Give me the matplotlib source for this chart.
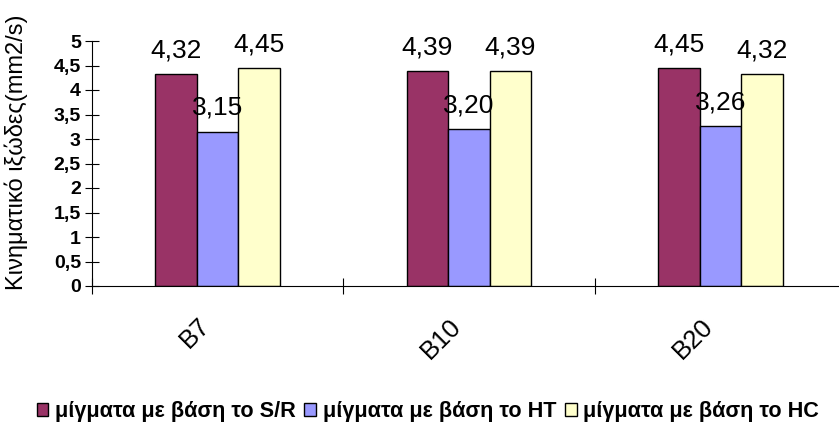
import numpy as np
import matplotlib.pyplot as plt
from matplotlib.transforms import ScaledTranslation

plt.rcParams['font.family'] = ['Liberation Sans', 'DejaVu Sans']

samples = ['B7', 'B10', 'B20']
series_names = ['μίγματα με βάση το S/R', 'μίγματα με βάση το HT', 'μίγματα με βάση το HC']
sr_vals = [4.32, 4.39, 4.45]
ht_vals = [3.15, 3.20, 3.26]
hc_vals = [4.45, 4.39, 4.32]
colors = ['#993366', '#9999FF', '#FFFFCC']
yticks = [0, 0.5, 1, 1.5, 2, 2.5, 3, 3.5, 4, 4.5, 5]

fig = plt.figure(figsize=(8.39, 4.25), dpi=100)
ax = fig.add_axes([92 / 839, 1 - 286 / 425, 754 / 839, 245 / 425])

x = np.arange(len(samples))
w = 0.165
for i, (vals, name, c) in enumerate(zip([sr_vals, ht_vals, hc_vals], series_names, colors)):
    pos = x + (i - 1) * w
    ax.bar(pos, vals, width=w, color=c, edgecolor='black', linewidth=1.0, label=name)
    for px, v in zip(pos, vals):
        ax.annotate(f'{v:.2f}'.replace('.', ','), (px, v), xytext=(0, 12),
                    textcoords='offset points', ha='center', va='baseline',
                    fontsize=19)

ax.set_xlim(-0.5, 2.5)
ax.set_ylim(0, 5)
ax.set_yticks(yticks)
ax.set_yticklabels([f'{t:g}'.replace('.', ',') for t in yticks],
                   fontsize=14, fontweight='bold')
ax.tick_params(axis='y', direction='inout', length=10, width=0.8, pad=3)

ax.set_xticks(x)
ax.set_xticklabels(samples, fontsize=18.5, rotation=45,
                   ha='right', va='top', rotation_mode='anchor')
ax.tick_params(axis='x', which='major', length=0, pad=20)
shift = ScaledTranslation(-20 / 100, 0, fig.dpi_scale_trans)
for lbl in ax.get_xticklabels():
    lbl.set_transform(lbl.get_transform() + shift)
ax.set_xticks([-0.5, 0.5, 1.5, 2.5], minor=True)
ax.tick_params(axis='x', which='minor', direction='inout', length=12, width=0.8)

for s in ['top', 'right']:
    ax.spines[s].set_visible(False)
ax.spines['left'].set_linewidth(0.8)
ax.spines['bottom'].set_linewidth(0.8)

ax.set_ylabel('Κινηματικό ιξώδες(mm2/s)', fontsize=17)
ax.yaxis.set_label_coords(-0.085, 0.545)

fig.legend(loc='center', bbox_to_anchor=(0.51, 1 - 412 / 425), ncol=3, frameon=False,
           prop={'size': 15.6, 'weight': 'bold'}, handlelength=0.55, handleheight=0.55,
           handletextpad=0.3, columnspacing=0.4)

fig.savefig('out.png', dpi=100)
